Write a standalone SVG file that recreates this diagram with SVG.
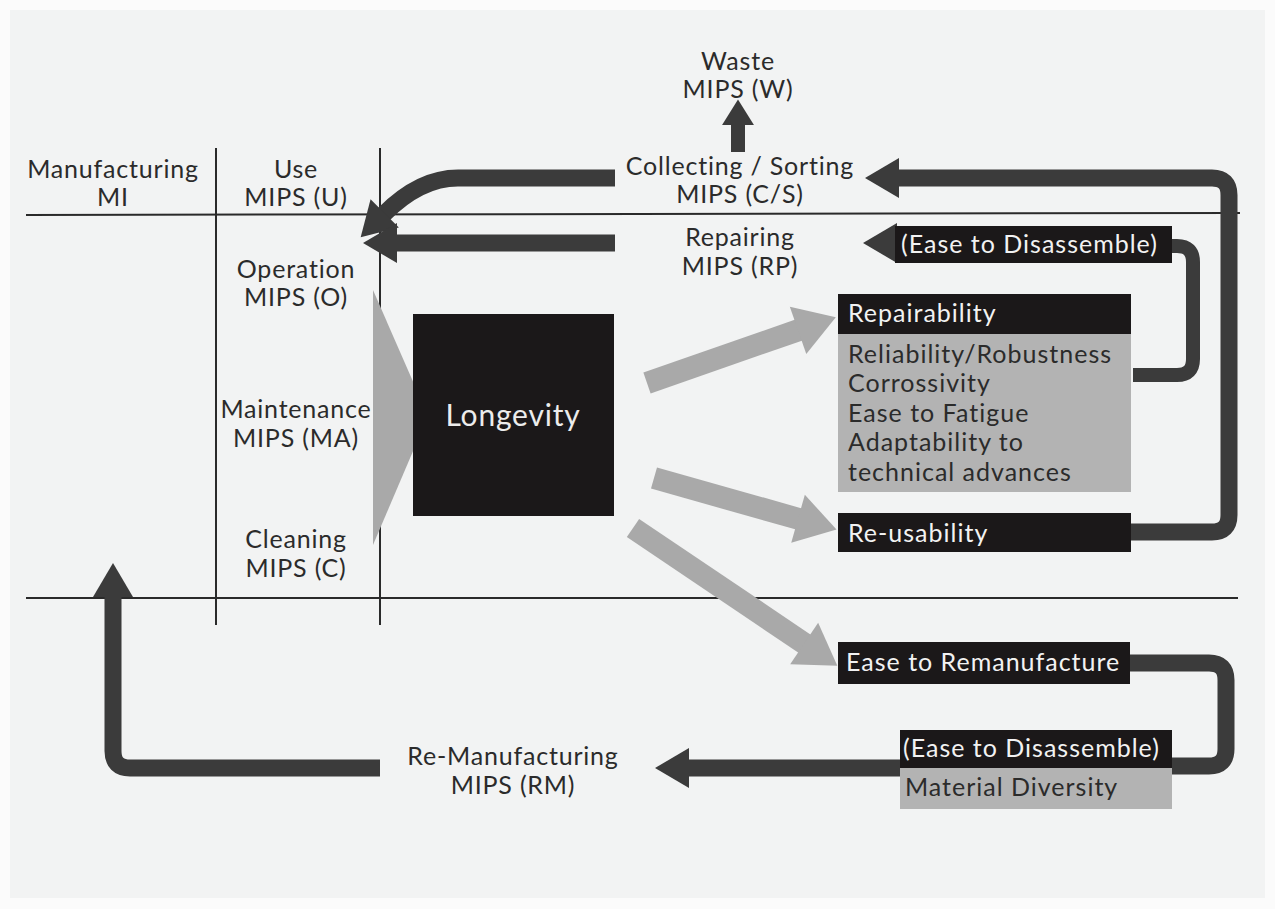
<svg xmlns="http://www.w3.org/2000/svg" width="1275" height="909" viewBox="0 0 1275 909">
<defs>
<style>
.t{font-family:Lato,"Open Sans","Liberation Sans",sans-serif;font-size:25px;letter-spacing:0.8px;fill:#2b2b2b;text-anchor:middle}
.w{font-family:Lato,"Open Sans","Liberation Sans",sans-serif;font-size:25px;letter-spacing:1px;fill:#f2f2f2}
.d{font-family:Lato,"Open Sans","Liberation Sans",sans-serif;font-size:25px;letter-spacing:1px;fill:#2b2b2b}
.rule{stroke:#2a2a2a;stroke-width:2;fill:none}
.dk{stroke:#3b3b3b;stroke-width:17;fill:none}
.dk2{stroke:#3b3b3b;stroke-width:14;fill:none}
.lg{stroke:#a9a9a9;stroke-width:22;fill:none}
.blk{fill:#1b1819}
.gry{fill:#b3b3b3}
</style>
<marker id="hd" markerUnits="userSpaceOnUse" markerWidth="40" markerHeight="44" viewBox="0 -22 36 44" refX="1" refY="0" orient="auto"><path d="M0,-20 L34,0 L0,20 Z" fill="#3b3b3b"/></marker>
<marker id="hs" markerUnits="userSpaceOnUse" markerWidth="34" markerHeight="34" viewBox="0 -16 26 32" refX="1" refY="0" orient="auto"><path d="M0,-15 L24,0 L0,15 Z" fill="#3b3b3b"/></marker>
<marker id="hg" markerUnits="userSpaceOnUse" markerWidth="50" markerHeight="56" viewBox="0 -28 44 56" refX="1" refY="0" orient="auto"><path d="M0,-25 L40,0 L0,25 Z" fill="#a9a9a9"/></marker>
</defs>
<rect x="0" y="0" width="1275" height="909" fill="#fbfbfb"/>
<rect x="10" y="10" width="1255" height="888" fill="#f2f3f3"/>

<g id="grid">
<line class="rule" x1="26" y1="215" x2="1240" y2="213"/>
<line class="rule" x1="26" y1="598" x2="1238" y2="598"/>
<line class="rule" x1="216" y1="148" x2="216" y2="625"/>
<line class="rule" x1="380" y1="148" x2="380" y2="625"/>
</g>

<g id="connectors">
<path class="dk" d="M615,178 H458 Q420,178 384,214" marker-end="url(#hd)"/>
<path class="dk" d="M615,243 H396" marker-end="url(#hd)"/>
<path class="dk" d="M1130,532 H1212 Q1229,532 1229,515 V195 Q1229,178 1212,178 H898" marker-end="url(#hd)"/>
<path class="dk2" d="M1133,375 H1177 Q1193,375 1193,359 V262 Q1193,246 1177,246 H1165"/>
<path class="dk2" d="M900,243 H896" marker-end="url(#hd)"/>
<path class="dk" d="M1128,663 H1209 Q1226,663 1226,680 V749 Q1226,766 1209,766 H1165"/>
<path class="dk" d="M905,768 H688" marker-end="url(#hd)"/>
<path class="dk" d="M380,768 H130 Q113,768 113,751 V596" marker-end="url(#hd)"/>
<path class="dk2" d="M738,152 V124" marker-end="url(#hs)"/>
<path class="lg" d="M647,383 L799,330" marker-end="url(#hg)"/>
<path class="lg" d="M654,478 L799,519" marker-end="url(#hg)"/>
<path class="lg" d="M633,528 L805,644" marker-end="url(#hg)"/>
<polygon points="373,290 428,416 373,545" fill="#a9a9a9"/>
</g>

<g id="manufacturing"><text class="t" x="113" y="178">Manufacturing</text><text class="t" x="113" y="206">MI</text></g>
<g id="use"><text class="t" x="296" y="178">Use</text><text class="t" x="296" y="206">MIPS (U)</text></g>
<g id="waste"><text class="t" x="738" y="70">Waste</text><text class="t" x="738" y="98">MIPS (W)</text></g>
<g id="collecting"><text class="t" x="740" y="175">Collecting / Sorting</text><text class="t" x="740" y="203">MIPS (C/S)</text></g>
<g id="repairing"><text class="t" x="740" y="246">Repairing</text><text class="t" x="740" y="275">MIPS (RP)</text></g>
<g id="operation"><text class="t" x="296" y="278">Operation</text><text class="t" x="296" y="306">MIPS (O)</text></g>
<g id="maintenance"><text class="t" x="296" y="418">Maintenance</text><text class="t" x="296" y="447">MIPS (MA)</text></g>
<g id="cleaning"><text class="t" x="296" y="548">Cleaning</text><text class="t" x="296" y="577">MIPS (C)</text></g>
<g id="remanufacturing"><text class="t" x="513" y="765">Re-Manufacturing</text><text class="t" x="513" y="794">MIPS (RM)</text></g>

<g id="longevity"><rect class="blk" x="413" y="314" width="201" height="202"/><text x="513" y="426" style="font-family:Lato,'Open Sans','Liberation Sans',sans-serif;font-size:30px;letter-spacing:0.8px;fill:#ececec;text-anchor:middle">Longevity</text></g>

<g id="ease-disassemble-top"><rect class="blk" x="895" y="226" width="277" height="37"/><text class="w" x="901" y="253">(Ease to Disassemble)</text></g>

<g id="repairability"><rect class="gry" x="838" y="334" width="293" height="158"/><rect class="blk" x="838" y="294" width="293" height="40"/>
<text class="w" x="848" y="322">Repairability</text>
<text class="d" x="848" y="363">Reliability/Robustness</text>
<text class="d" x="848" y="392">Corrossivity</text>
<text class="d" x="848" y="422">Ease to Fatigue</text>
<text class="d" x="848" y="451">Adaptability to</text>
<text class="d" x="848" y="481">technical advances</text></g>

<g id="reusability"><rect class="blk" x="838" y="513" width="293" height="39"/><text class="w" x="848" y="542">Re-usability</text></g>

<g id="ease-remanufacture"><rect class="blk" x="838" y="642" width="292" height="42"/><text class="w" x="846" y="671">Ease to Remanufacture</text></g>

<g id="ease-disassemble-bottom"><rect class="gry" x="900" y="768" width="272" height="41"/><rect class="blk" x="900" y="730" width="272" height="38"/>
<text class="w" x="903" y="757">(Ease to Disassemble)</text>
<text class="d" x="905" y="796">Material Diversity</text></g>
</svg>
